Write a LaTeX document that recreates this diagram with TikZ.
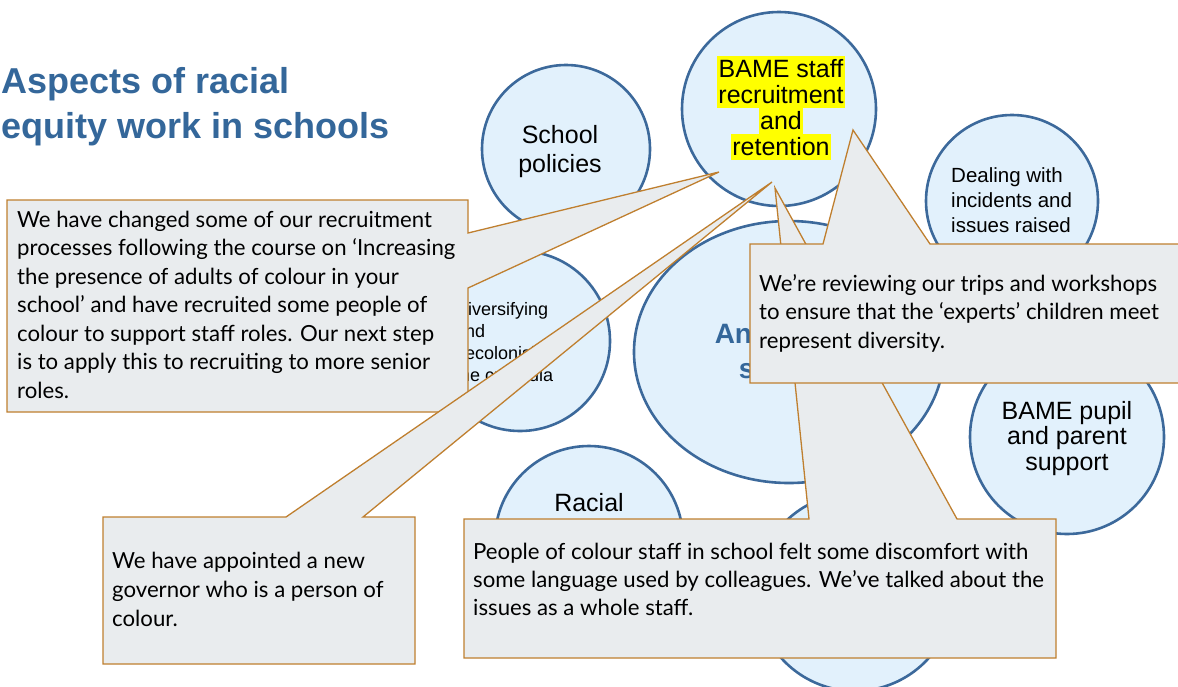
\documentclass[tikz,border=0pt]{standalone}
\usepackage{fontspec}
\setmainfont{Liberation Sans}
\newfontfamily\callfont{Lato}
\usetikzlibrary{shapes.geometric}
\definecolor{circfill}{HTML}{E2F1FC}
\definecolor{circline}{HTML}{3C699B}
\definecolor{callfill}{HTML}{E9ECEE}
\definecolor{callline}{HTML}{BF7F2F}
\definecolor{titleblue}{HTML}{34679A}
\definecolor{hilite}{HTML}{FFFF00}
\begin{document}
\begin{tikzpicture}[x=1pt,y=-1pt,
  topic/.style={circle, draw=circline, fill=circfill, line width=2.6pt, inner sep=0pt},
  topicoval/.style={ellipse, draw=circline, fill=circfill, line width=2.6pt, inner sep=0pt},
  topictext/.style={align=center, anchor=base, inner sep=0pt, font=\fontsize{25}{26}\selectfont},
  hl/.style={fill=hilite, anchor=base, inner xsep=1.5pt, inner ysep=0pt, text height=21.5pt, text depth=4.5pt, font=\fontsize{25}{26}\selectfont},
  callout/.style={draw=callline, fill=callfill, line width=1.3pt, line join=miter},
  calltext/.style={align=left, anchor=base west, inner sep=0pt, font=\callfont\fontsize{22.2}{28.5}\selectfont},
  titletext/.style={align=left, anchor=base west, inner sep=0pt, text=titleblue, font=\bfseries\fontsize{36}{45}\selectfont}
]
\useasboundingbox (0,0) rectangle (1178,686);
\clip (0,0) rectangle (1178,686);

% title (base anchor = baseline of last line)
\node[titletext] (title) at (1,138) {Aspects of racial\\equity work in schools};

% topic circles
\node[topic, minimum size=168pt] (policies) at (566,149) {};
\node[topictext, font=\fontsize{25}{29}\selectfont] (policiesT) at (560,172) {School\\policies};

\node[topic, minimum size=194pt] (staff) at (779,109) {};
\node[hl] (staffA) at (781,77) {BAME staff};
\node[hl] (staffB) at (781,103) {recruitment};
\node[hl] (staffC) at (781,129) {and};
\node[hl] (staffD) at (781,155) {retention};

\node[topic, minimum size=172pt] (incidents) at (1012,201) {};
\node[topictext, align=left, anchor=base west, font=\fontsize{20.5}{25}\selectfont] (incidentsT) at (951,232) {Dealing with\\incidents and\\issues raised};

\node[topic, minimum size=180pt] (curricula) at (520,341) {};
\node[topictext, align=left, anchor=base west, font=\fontsize{18}{22}\selectfont] (curriculaT) at (455,381) {Diversifying\\and\\decolonising\\the curricula};

\node[topicoval, minimum width=310pt, minimum height=262pt] (school) at (789,352) {};
\node[topictext, text=titleblue, font=\bfseries\fontsize{28}{35}\selectfont] (schoolT) at (784,378) {Anti-racist\\school};

\node[topic, minimum size=188pt] (racial) at (589,540) {};
\node[topictext] (racialT) at (589,511) {Racial};

\node[topic, minimum size=198pt] (lower) at (855,592) {};

\node[topic, minimum size=194pt] (pupil) at (1067,437) {};
\node[topictext, font=\fontsize{25}{25.5}\selectfont] (pupilT) at (1067,470) {BAME pupil\\and parent\\support};

% callout pointer tips
\coordinate (tipA) at (719,172);
\coordinate (tipB) at (772,182);
\coordinate (tipC) at (775,188);
\coordinate (tipD) at (853,130);

% callout 1 (top left)
\draw[callout] (7,200) -- (468,200) -- (468,233) -- (tipA) -- (468,288) -- (468,412) -- (7,412) -- cycle;
\node[calltext] (callA) at (17,398) {We have changed some of our recruitment\\processes following the course on ‘Increasing\\the presence of adults of colour in your\\school’ and have recruited some people of\\colour to support staff roles. Our next step\\is to apply this to recruiting to more senior\\roles.};

% callout 2 (bottom left)
\draw[callout] (103,517) -- (286,517) -- (tipB) -- (363,517) -- (415,517) -- (415,664) -- (103,664) -- cycle;
\node[calltext, font=\callfont\fontsize{22.2}{29}\selectfont] (callB) at (112,626) {We have appointed a new\\governor who is a person of\\colour.};

% callout 3 (bottom)
\draw[callout] (464,519) -- (809,519) -- (tipC) -- (957,519) -- (1056,519) -- (1056,658) -- (464,658) -- cycle;
\node[calltext, font=\callfont\fontsize{22.2}{28}\selectfont] (callC) at (473,615) {People of colour staff in school felt some discomfort with\\some language used by colleagues. We’ve talked about the\\issues as a whole staff.};

% callout 4 (upper right)
\draw[callout] (750,244) -- (823,244) -- (tipD) -- (930,244) -- (1195,244) -- (1195,383) -- (750,383) -- cycle;
\node[calltext] (callD) at (759,348) {We’re reviewing our trips and workshops\\to ensure that the ‘experts’ children meet\\represent diversity.};
\end{tikzpicture}
\end{document}
